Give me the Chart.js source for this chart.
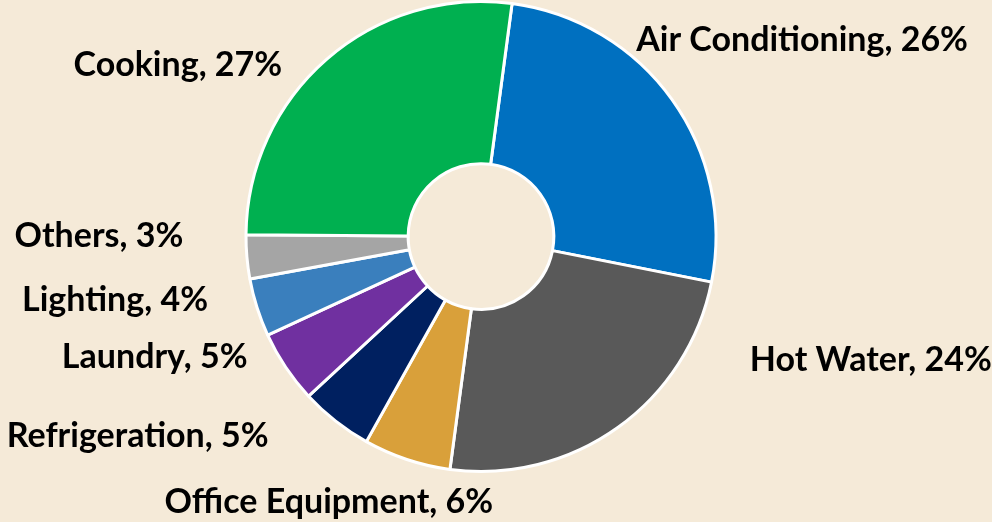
<!DOCTYPE html>
<html>
<head>
<meta charset="utf-8">
<script src="https://cdn.jsdelivr.net/npm/chart.js@4.4.1/dist/chart.umd.min.js"></script>
<style>
    html, body { margin: 0; padding: 0; background: #f5ead8; }
    #wrap { width: 992px; height: 522px; position: relative; }
</style>
</head>
<body>
<div id="wrap"><canvas id="energy-chart"></canvas></div>
<script>
// end uses, clockwise from just right of 12 o'clock
var categories = ['Air Conditioning', 'Hot Water', 'Office Equipment', 'Refrigeration', 'Laundry', 'Lighting', 'Others', 'Cooking'];
var shares = [26, 24, 6, 5, 5, 4, 3, 27];
var sliceColors = ['#0070c0', '#595959', '#d9a03a', '#002060', '#7030a0', '#3a7fbd', '#a5a5a5', '#00b050'];

// where each label sits, relative to the middle of its slice's outer edge
var labelNudge = [[130, -60], [253, -68], [-78, 43], [-198, 15], [-131, -10], [-142, -8], [-148, -21], [-149, 6]];

const sliceLabels = {
    id: 'sliceLabels',
    afterDatasetsDraw(chart) {
        const ctx = chart.ctx;
        const arcs = chart.getDatasetMeta(0).data;
        ctx.save();
        ctx.font = 'bold 34px Lato';
        ctx.fillStyle = '#000000';
        ctx.textAlign = 'center';
        ctx.textBaseline = 'middle';
        arcs.forEach(function(arc, i) {
            const p = arc.getProps(['x', 'y', 'startAngle', 'endAngle', 'outerRadius'], true);
            const mid = (p.startAngle + p.endAngle) / 2;
            const ax = p.x + Math.cos(mid) * p.outerRadius + labelNudge[i][0];
            const ay = p.y + Math.sin(mid) * p.outerRadius + labelNudge[i][1];
            ctx.fillText(categories[i] + ', ' + shares[i] + '%', ax, ay);
        });
        ctx.restore();
    }
};

var energy_chart = document.getElementById('energy-chart').getContext('2d');
var myChart = new Chart(energy_chart, {
    type: 'doughnut',
    data: {
        labels: categories,
        datasets: [{
            data: shares,
            backgroundColor: sliceColors,
            borderColor: '#ffffff',
            borderWidth: 3,
        }]
    },
    options: {
        maintainAspectRatio: false,
        responsive: true,
        animation: false,
        cutout: '31%',
        rotation: 7.6,
        layout: {
            padding: { top: 0, bottom: 49, left: 0, right: 30 }
        },
        plugins: {
            legend: { display: false },
            tooltip: { enabled: false },
            title: { display: false }
        }
    },
    plugins: [sliceLabels]
});
</script>
</body>
</html>
